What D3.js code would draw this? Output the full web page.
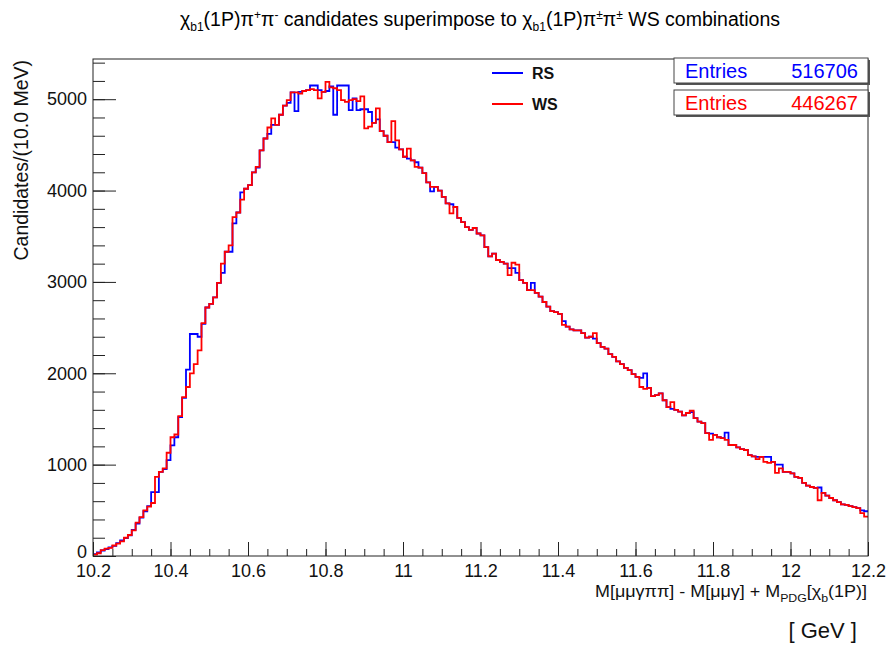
<!DOCTYPE html>
<html lang="en"><head>
<meta charset="utf-8">
<title>chi_b1 pi pi RS vs WS</title>
<script src="https://cdn.jsdelivr.net/npm/d3@7/dist/d3.min.js"></script>
<style>
  body { margin: 0; background: #fff; }
  text { font-family: "Liberation Sans", Arial, Helvetica, sans-serif; }
</style>
</head>
<body>
<script type="text/javascript">

// histogram binning: 200 bins of 10 MeV from 10.2 GeV
var xLo = 10.2, xHi = 12.2, binW = 0.01;

// RS candidates (blue), bin contents
var rsCounts = [
  20, 40, 60, 75, 95, 110, 140, 170, 195, 225,
  285, 355, 420, 490, 545, 700, 700, 920, 950, 1050,
  1210, 1300, 1520, 1730, 2040, 2430, 2430, 2400, 2540, 2720,
  2760, 2830, 2990, 3100, 3330, 3330, 3640, 3760, 3980, 4020,
  4060, 4200, 4250, 4440, 4570, 4620, 4720, 4720, 4830, 4930,
  4960, 5075, 4870, 5080, 5090, 5100, 5150, 5150, 5100, 5080,
  5090, 5140, 4830, 5150, 5150, 5150, 4880, 5010, 4880, 4890,
  4890, 4860, 4740, 4780, 4650, 4600, 4530, 4530, 4470, 4450,
  4370, 4350, 4330, 4310, 4250, 4190, 4090, 3990, 4040, 4000,
  3930, 3860, 3850, 3820, 3700, 3655, 3600, 3570, 3590, 3530,
  3510, 3380, 3280, 3310, 3240, 3220, 3200, 3150, 3150, 3100,
  3020, 2990, 2910, 2990, 2880, 2840, 2780, 2730, 2680, 2670,
  2650, 2570, 2510, 2480, 2470, 2470, 2440, 2390, 2400, 2380,
  2330, 2290, 2270, 2210, 2180, 2130, 2100, 2060, 2035, 1990,
  1960, 1950, 2000, 1840, 1750, 1760, 1780, 1705, 1630, 1610,
  1600, 1580, 1540, 1565, 1575, 1510, 1470, 1455, 1345, 1340,
  1325, 1300, 1290, 1350, 1215, 1215, 1190, 1170, 1160, 1105,
  1090, 1085, 1085, 1085, 1085, 1030, 1000, 1000, 920, 920,
  905, 865, 855, 800, 770, 755, 745, 750, 690, 660,
  635, 610, 590, 565, 560, 545, 535, 525, 500, 490
];

// WS combinations (red)
var wsCounts = [
  15, 30, 65, 80, 90, 115, 135, 160, 200, 230,
  280, 365, 425, 500, 540, 580, 865, 920, 960, 1130,
  1300, 1330, 1530, 1740, 1850, 2000, 2100, 2250, 2550, 2720,
  2760, 2830, 2990, 3200, 3330, 3400, 3710, 3760, 3900, 4020,
  4060, 4200, 4260, 4440, 4570, 4690, 4790, 4720, 4830, 4930,
  4990, 5075, 5075, 5060, 5090, 5100, 5110, 5100, 5010, 5080,
  5190, 5130, 5120, 5100, 4990, 4970, 4990, 5000, 4980, 5030,
  4680, 4700, 4740, 4900, 4650, 4600, 4530, 4760, 4550, 4450,
  4370, 4460, 4330, 4260, 4250, 4190, 4090, 4040, 4040, 4000,
  3930, 3860, 3750, 3820, 3700, 3655, 3600, 3570, 3590, 3530,
  3510, 3380, 3280, 3310, 3240, 3220, 3200, 3075, 3210, 3190,
  3020, 2990, 2910, 2910, 2880, 2840, 2780, 2730, 2680, 2670,
  2650, 2530, 2510, 2480, 2470, 2470, 2440, 2390, 2400, 2440,
  2330, 2290, 2270, 2210, 2180, 2130, 2100, 2060, 2035, 1990,
  1960, 1850, 1830, 1840, 1750, 1760, 1780, 1705, 1630, 1685,
  1600, 1580, 1540, 1565, 1590, 1510, 1470, 1455, 1345, 1270,
  1325, 1300, 1290, 1270, 1215, 1215, 1190, 1170, 1160, 1105,
  1090, 1060, 1085, 1030, 1020, 1030, 910, 960, 920, 920,
  905, 865, 855, 800, 770, 755, 745, 610, 690, 660,
  635, 610, 590, 565, 560, 545, 535, 525, 470, 430
];

var xTickValues = [10.2, 10.4, 10.6, 10.8, 11, 11.2, 11.4, 11.6, 11.8, 12, 12.2];
var xTickLabels = ["10.2", "10.4", "10.6", "10.8", "11", "11.2", "11.4", "11.6", "11.8", "12", "12.2"];
var yTickValues = [0, 1000, 2000, 3000, 4000, 5000];
var yTickLabels = ["0", "1000", "2000", "3000", "4000", "5000"];

var seriesNames = ["RS", "WS"];
var seriesColors = ["#0000ff", "#ff0000"];
var seriesEntries = ["516706", "446267"];

var width = 890;
var height = 646;
var frame = {left: 93, right: 868, top: 59, bottom: 556};

var svg = d3.select("body").append("svg")
            .attr("width", width)
            .attr("height", height)
            .style("display", "block");

svg.append("rect").attr("width", width).attr("height", height).attr("fill", "#fff");

var x = d3.scaleLinear().domain([xLo, xHi]).range([frame.left, frame.right]);
var y = d3.scaleLinear().domain([0, 5440]).range([frame.bottom, frame.top]);

// writes a text made of normal / sub / super pieces
function richText(sel, parts, smallSize, subDy, supDy) {
    var cur = 0;
    parts.forEach((p) => {
        var target = p[1] == "sub" ? subDy : (p[1] == "sup" ? supDy : 0);
        var t = sel.append("tspan").text(p[0]).attr("dy", target - cur);
        if (p[1] != "n") t.attr("font-size", smallSize);
        cur = target;
    });
}

// title
var title = svg.append("text")
    .attr("x", 480).attr("y", 26)
    .attr("text-anchor", "middle")
    .attr("font-size", 19.5)
    .attr("fill", "#000");
richText(title, [
    ["χ", "n"], ["b1", "sub"], ["(1P)π", "n"], ["+", "sup"], ["π", "n"], ["-", "sup"],
    [" candidates superimpose to χ", "n"], ["b1", "sub"], ["(1P)π", "n"], ["±", "sup"],
    ["π", "n"], ["±", "sup"], [" WS combinations", "n"]
], 12, 5, -7);

// histograms
var line = d3.line()
    .x((d) => x(d[0]))
    .y((d) => y(d[1]))
    .curve(d3.curveStepAfter);

function histPoints(counts) {
    var pts = counts.map((c, i) => [xLo + i * binW, c]);
    pts.push([xLo + counts.length * binW, counts[counts.length - 1]]);
    return pts;
}

[rsCounts, wsCounts].forEach((counts, k) => {
    svg.append("path")
        .attr("d", line(histPoints(counts)))
        .attr("fill", "none")
        .attr("stroke", seriesColors[k])
        .attr("stroke-width", 1.8)
        .attr("stroke-linejoin", "miter");
});

// axes, ticks point into the frame like ROOT
var yMinor = d3.range(0, 5401, 200);
svg.append("g")
    .attr("transform", `translate(${frame.left},0)`)
    .call(d3.axisLeft(y).tickValues(yMinor).tickSize(-12).tickFormat(""))
    .call((g) => g.select(".domain").remove());
svg.append("g")
    .attr("transform", `translate(${frame.left},0)`)
    .call(d3.axisLeft(y).tickValues(yTickValues).tickSize(-23).tickPadding(6)
        .tickFormat((d, i) => yTickLabels[i]))
    .call((g) => g.select(".domain").remove())
    .call((g) => g.selectAll("text").attr("font-size", 18).attr("font-family", "Liberation Sans").attr("fill", "#111"))
    .call((g) => g.selectAll("text").filter((d) => d == 0).attr("dy", "0.1em"));

var xMinor = d3.range(0, 41).map((i) => xLo + i * 0.05);
svg.append("g")
    .attr("transform", `translate(0,${frame.bottom})`)
    .call(d3.axisBottom(x).tickValues(xMinor).tickSize(-7).tickFormat(""))
    .call((g) => g.select(".domain").remove());
svg.append("g")
    .attr("transform", `translate(0,${frame.bottom})`)
    .call(d3.axisBottom(x).tickValues(xTickValues).tickSize(-14).tickPadding(8)
        .tickFormat((d, i) => xTickLabels[i]))
    .call((g) => g.select(".domain").remove())
    .call((g) => g.selectAll("text").attr("font-size", 18).attr("font-family", "Liberation Sans").attr("fill", "#111"));

svg.selectAll(".tick line").attr("stroke", "#222").attr("stroke-width", 1);

// frame
svg.append("rect")
    .attr("x", frame.left).attr("y", frame.top)
    .attr("width", frame.right - frame.left).attr("height", frame.bottom - frame.top)
    .attr("fill", "none").attr("stroke", "#222").attr("stroke-width", 1);

// y title
svg.append("text")
    .attr("transform", "translate(28,60) rotate(-90)")
    .attr("text-anchor", "end")
    .attr("font-size", 19.5)
    .attr("fill", "#111")
    .text("Candidates/(10.0 MeV)");

// x title, squeezed a bit like the ROOT font
var xTitle = svg.append("text")
    .attr("x", 867).attr("y", 597)
    .attr("text-anchor", "end")
    .attr("font-size", 16)
    .attr("textLength", 272)
    .attr("lengthAdjust", "spacingAndGlyphs")
    .attr("fill", "#111");
richText(xTitle, [
    ["M[μμγππ] - M[μμγ] + M", "n"], ["PDG", "sub"], ["[χ", "n"], ["b", "sub"], ["(1P)]", "n"]
], 11, 5, -7);

svg.append("text")
    .attr("x", 857).attr("y", 638)
    .attr("text-anchor", "end")
    .attr("font-size", 22)
    .attr("fill", "#111")
    .text("[ GeV ]");

// legend
seriesNames.forEach((name, k) => {
    var ly = 73 + k * 31;
    svg.append("line")
        .attr("x1", 492).attr("x2", 523).attr("y1", ly).attr("y2", ly)
        .attr("stroke", seriesColors[k]).attr("stroke-width", 2);
    svg.append("text")
        .attr("x", 532).attr("y", ly + 6)
        .attr("font-size", 16).attr("font-weight", "bold")
        .attr("fill", "#111")
        .text(name);
});

// stats boxes
seriesNames.forEach((name, k) => {
    var by = 58 + k * 32;
    svg.append("rect")
        .attr("x", 676).attr("y", by + 2).attr("width", 194).attr("height", 25)
        .attr("fill", "#555");
    svg.append("rect")
        .attr("x", 674).attr("y", by).attr("width", 194).attr("height", 25)
        .attr("fill", "#fff").attr("stroke", "#444").attr("stroke-width", 1);
    svg.append("text")
        .attr("x", 685).attr("y", by + 20)
        .attr("font-size", 20).attr("fill", seriesColors[k])
        .text("Entries");
    svg.append("text")
        .attr("x", 858).attr("y", by + 20)
        .attr("text-anchor", "end")
        .attr("font-size", 20).attr("fill", seriesColors[k])
        .text(seriesEntries[k]);
});

</script>
</body></html>
